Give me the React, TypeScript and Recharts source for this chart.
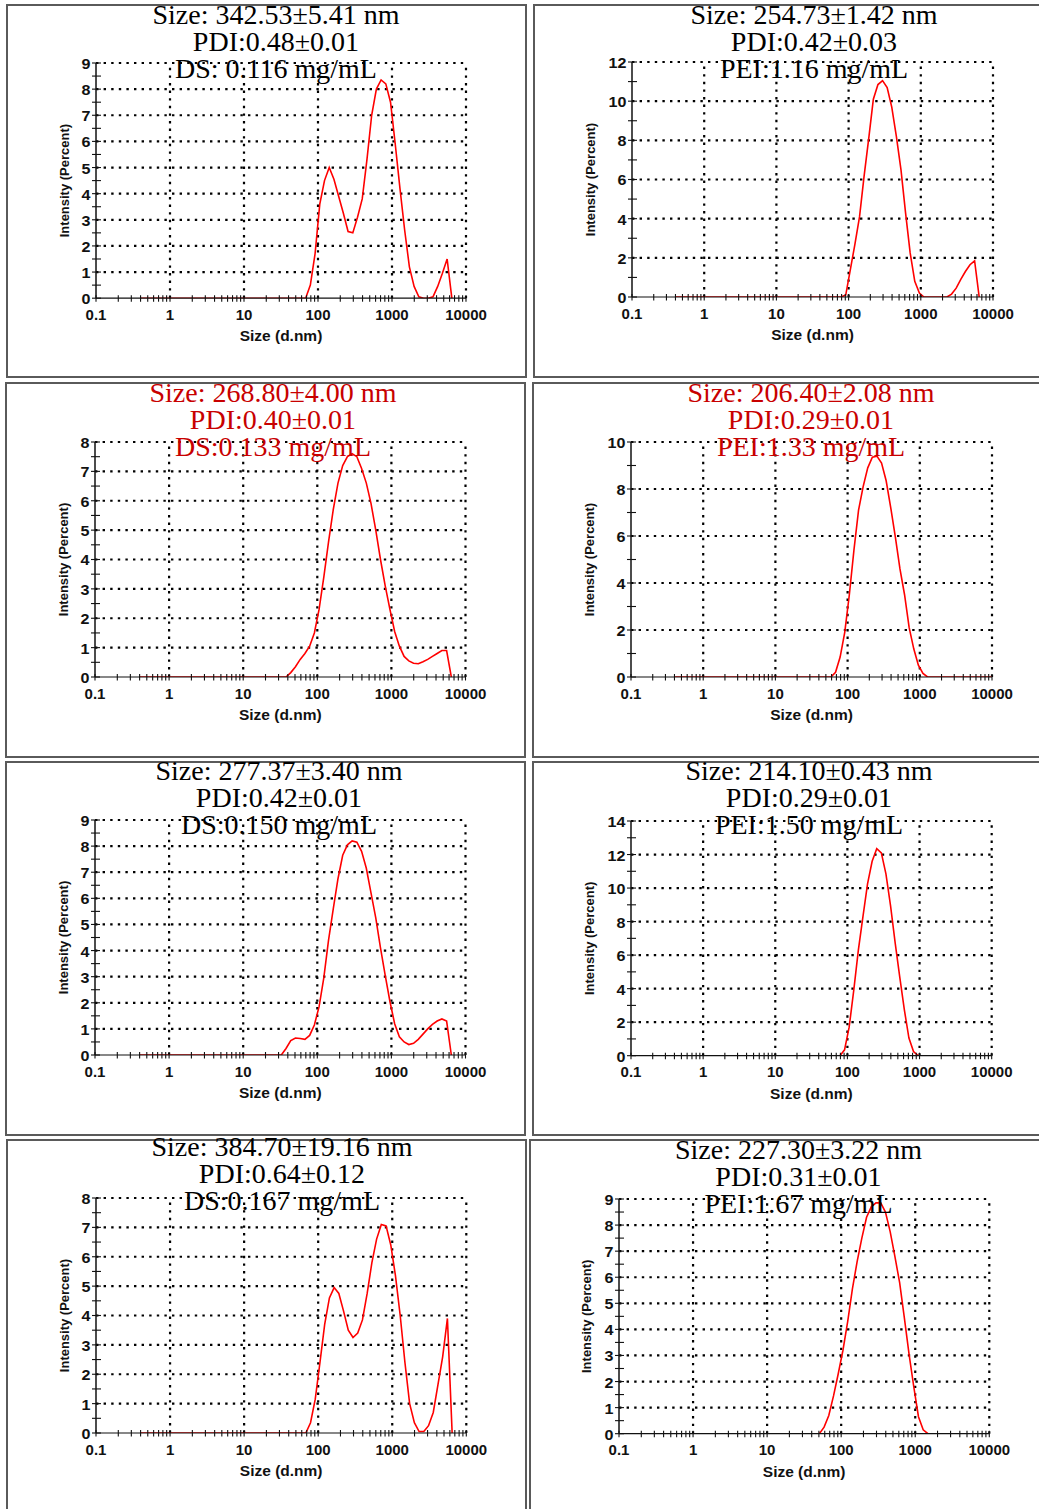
import React from 'react'
import { LineChart, Line, XAxis, YAxis, ReferenceLine } from 'recharts'

// Zetasizer size classes (d.nm), shared by every measurement
const SIZE_BINS = [
  0.4, 0.4632, 0.5365, 0.6213, 0.7195, 0.8332, 0.9649, 1.117, 1.294, 1.499,
  1.736, 2.01, 2.328, 2.696, 3.122, 3.615, 4.187, 4.849, 5.615, 6.503,
  7.531, 8.721, 10.1, 11.7, 13.54, 15.69, 18.17, 21.04, 24.36, 28.21,
  32.67, 37.84, 43.82, 50.75, 58.77, 68.06, 78.82, 91.28, 105.7, 122.4,
  141.8, 164.2, 190.1, 220.2, 255, 295.3, 342, 396.1, 458.7, 531.2,
  615.1, 712.4, 825, 955.4, 1106, 1281, 1484, 1718, 1990, 2305,
  2669, 3091, 3580, 4145, 4801, 5560, 6439, 7456, 8635, 10000,
]

const X_MAJOR = [0.1, 1, 10, 100, 1000, 10000]
const X_MINOR = [
  0.2, 0.3, 0.4, 0.5, 0.6, 0.7, 0.8, 0.9,
  2, 3, 4, 5, 6, 7, 8, 9,
  20, 30, 40, 50, 60, 70, 80, 90,
  200, 300, 400, 500, 600, 700, 800, 900,
  2000, 3000, 4000, 5000, 6000, 7000, 8000, 9000,
]

const Y_TICKS_8 = [0, 1, 2, 3, 4, 5, 6, 7, 8]
const Y_TICKS_9 = [0, 1, 2, 3, 4, 5, 6, 7, 8, 9]
const Y_TICKS_10 = [0, 2, 4, 6, 8, 10]
const Y_TICKS_12 = [0, 2, 4, 6, 8, 10, 12]
const Y_TICKS_14 = [0, 2, 4, 6, 8, 10, 12, 14]

// intensity (%) per size class
const ds116 = [
  0, 0, 0, 0, 0, 0, 0, 0, 0, 0,
  0, 0, 0, 0, 0, 0, 0, 0, 0, 0,
  0, 0, 0, 0, 0, 0, 0, 0, 0, 0,
  0, 0, 0, 0, 0, 0, 0.5, 1.7, 3.6, 4.5,
  5.0, 4.55, 3.9, 3.25, 2.55, 2.5, 3.1, 3.8, 5.3, 7.0,
  8.0, 8.35, 8.2, 7.5, 5.9, 4.2, 2.6, 1.2, 0.45, 0.05,
  0, 0, 0.05, 0.45, 0.95, 1.5, 0,
]
const pei116 = [
  0, 0, 0, 0, 0, 0, 0, 0, 0, 0,
  0, 0, 0, 0, 0, 0, 0, 0, 0, 0,
  0, 0, 0, 0, 0, 0, 0, 0, 0, 0,
  0, 0, 0, 0, 0, 0, 0, 0.1, 1.4, 2.7,
  4.1, 6.2, 8.1, 10.1, 10.85, 11.05, 10.7, 9.7, 8.2, 6.5,
  4.3, 2.25, 0.8, 0.2, 0, 0, 0, 0, 0, 0,
  0.15, 0.45, 0.9, 1.3, 1.65, 1.85, 0,
]
const ds133 = [
  0, 0, 0, 0, 0, 0, 0, 0, 0, 0,
  0, 0, 0, 0, 0, 0, 0, 0, 0, 0,
  0, 0, 0, 0, 0, 0, 0, 0, 0, 0,
  0, 0, 0.15, 0.35, 0.6, 0.8, 1.05, 1.5, 2.3, 3.4,
  4.6, 5.7, 6.6, 7.2, 7.5, 7.6, 7.5, 7.1, 6.6, 5.9,
  5.0, 4.0, 3.1, 2.3, 1.55, 1.05, 0.7, 0.55, 0.47, 0.45,
  0.52, 0.6, 0.7, 0.8, 0.9, 0.9, 0,
]
const pei133 = [
  0, 0, 0, 0, 0, 0, 0, 0, 0, 0,
  0, 0, 0, 0, 0, 0, 0, 0, 0, 0,
  0, 0, 0, 0, 0, 0, 0, 0, 0, 0,
  0, 0, 0, 0, 0, 0.2, 0.85, 1.9, 3.5, 5.4,
  7.1, 8.1, 8.9, 9.35, 9.4, 9.1, 8.35, 7.2, 5.95, 4.6,
  3.5, 2.1, 1.2, 0.5, 0.15, 0, 0, 0, 0, 0,
  0, 0, 0, 0, 0, 0, 0, 0, 0, 0,
]
const ds150 = [
  0, 0, 0, 0, 0, 0, 0, 0, 0, 0,
  0, 0, 0, 0, 0, 0, 0, 0, 0, 0,
  0, 0, 0, 0, 0, 0, 0, 0, 0, 0,
  0, 0.25, 0.55, 0.65, 0.63, 0.6, 0.75, 1.15, 1.85, 2.95,
  4.4, 5.6, 6.75, 7.65, 8.05, 8.2, 8.15, 7.8, 7.15, 6.2,
  5.25, 4.1, 3.05, 2.05, 1.2, 0.7, 0.5, 0.4, 0.45, 0.6,
  0.8, 1.0, 1.17, 1.3, 1.38, 1.3, 0,
]
const pei150 = [
  0, 0, 0, 0, 0, 0, 0, 0, 0, 0,
  0, 0, 0, 0, 0, 0, 0, 0, 0, 0,
  0, 0, 0, 0, 0, 0, 0, 0, 0, 0,
  0, 0, 0, 0, 0, 0, 0, 0.35, 1.7, 3.9,
  6.3, 8.3, 10.25, 11.6, 12.35, 12.1, 10.85, 8.95, 6.75, 4.7,
  2.75, 1.05, 0.25, 0, 0, 0, 0, 0, 0, 0,
  0, 0, 0, 0, 0, 0, 0, 0, 0, 0,
]
const ds167 = [
  0, 0, 0, 0, 0, 0, 0, 0, 0, 0,
  0, 0, 0, 0, 0, 0, 0, 0, 0, 0,
  0, 0, 0, 0, 0, 0, 0, 0, 0, 0,
  0, 0, 0, 0, 0, 0, 0.35, 1.15, 2.4, 3.7,
  4.6, 4.95, 4.75, 4.15, 3.5, 3.25, 3.4, 3.85, 4.75, 5.8,
  6.6, 7.1, 7.05, 6.4, 5.35, 4.0, 2.4, 1.0, 0.35, 0.05,
  0.05, 0.25, 0.7, 1.65, 2.6, 3.9, 0,
]
const pei167 = [
  0, 0, 0, 0, 0, 0, 0, 0, 0, 0,
  0, 0, 0, 0, 0, 0, 0, 0, 0, 0,
  0, 0, 0, 0, 0, 0, 0, 0, 0, 0,
  0, 0, 0, 0, 0.25, 0.7, 1.45, 2.3, 3.2, 4.3,
  5.55, 6.6, 7.5, 8.3, 8.7, 8.85, 8.85, 8.5, 7.75, 6.8,
  5.8, 4.45, 3.05, 1.8, 0.65, 0.15, 0, 0, 0, 0,
  0, 0, 0, 0, 0, 0, 0, 0, 0, 0,
]

const sizeLabels = [
  'Size: 342.53±5.41 nm', 'Size: 254.73±1.42 nm',
  'Size: 268.80±4.00 nm', 'Size: 206.40±2.08 nm',
  'Size: 277.37±3.40 nm', 'Size: 214.10±0.43 nm',
  'Size: 384.70±19.16 nm', 'Size: 227.30±3.22 nm',
]
const pdiLabels = [
  'PDI:0.48±0.01', 'PDI:0.42±0.03',
  'PDI:0.40±0.01', 'PDI:0.29±0.01',
  'PDI:0.42±0.01', 'PDI:0.29±0.01',
  'PDI:0.64±0.12', 'PDI:0.31±0.01',
]
const concLabels = [
  'DS: 0.116 mg/mL', 'PEI:1.16 mg/mL',
  'DS:0.133 mg/mL', 'PEI:1.33 mg/mL',
  'DS:0.150 mg/mL', 'PEI:1.50 mg/mL',
  'DS:0.167 mg/mL', 'PEI:1.67 mg/mL',
]

const SANS = "'Liberation Sans', Arial, sans-serif"
const SERIF = "'Liberation Serif', 'Times New Roman', serif"
const INK = '#111'

type Box = { x: number, y: number, w: number, h: number }
type PanelCfg = {
  box: Box
  plot: Box
  yTicks: number[]
  values: number[]
  titleX: number
  titleY: number
  labelGap: number
  color: string
}

const panels: PanelCfg[] = [
  { box: { x: 6, y: 4, w: 521, h: 374 }, plot: { x: 96, y: 62.5, w: 370, h: 235.2 }, yTicks: Y_TICKS_9, values: ds116, titleX: 276, titleY: 24, labelGap: 32, color: '#000' },
  { box: { x: 533, y: 4, w: 520, h: 374 }, plot: { x: 632, y: 62.3, w: 361, h: 235 }, yTicks: Y_TICKS_12, values: pei116, titleX: 814, titleY: 24, labelGap: 42, color: '#000' },
  { box: { x: 5, y: 382, w: 521, h: 376 }, plot: { x: 95, y: 441.7, w: 370.5, h: 235 }, yTicks: Y_TICKS_8, values: ds133, titleX: 273, titleY: 402.3, labelGap: 32, color: '#c80000' },
  { box: { x: 532, y: 382, w: 520, h: 376 }, plot: { x: 631, y: 441.7, w: 361, h: 235 }, yTicks: Y_TICKS_10, values: pei133, titleX: 811, titleY: 402.7, labelGap: 42, color: '#c80000' },
  { box: { x: 5, y: 761, w: 521, h: 375 }, plot: { x: 95, y: 820, w: 370.5, h: 235 }, yTicks: Y_TICKS_9, values: ds150, titleX: 279, titleY: 780, labelGap: 32, color: '#000' },
  { box: { x: 532, y: 761, w: 520, h: 375 }, plot: { x: 631, y: 821, w: 360.7, h: 234.7 }, yTicks: Y_TICKS_14, values: pei150, titleX: 809, titleY: 780, labelGap: 42, color: '#000' },
  { box: { x: 6, y: 1139, w: 521, h: 380 }, plot: { x: 95.7, y: 1198.3, w: 370.3, h: 235 }, yTicks: Y_TICKS_8, values: ds167, titleX: 282, titleY: 1156, labelGap: 32, color: '#000' },
  { box: { x: 529, y: 1139, w: 520, h: 380 }, plot: { x: 619, y: 1199.3, w: 370.3, h: 234.7 }, yTicks: Y_TICKS_9, values: pei167, titleX: 798.5, titleY: 1159.3, labelGap: 33, color: '#000' },
]

function SizeTick(props: any) {
  const { x, y, payload } = props
  const major = X_MAJOR.includes(payload.value)
  return (
    <g>
      <line x1={x} x2={x} y1={y - 3} y2={y + 3.5} stroke={INK} strokeWidth={1.1} />
      {major && (
        <text x={x} y={y + 21.6} textAnchor="middle" fontFamily={SANS} fontWeight="bold" fontSize={15} fill={INK}>
          {String(payload.value)}
        </text>
      )}
    </g>
  )
}

function PctTick(props: any) {
  const { x, y, payload, majors } = props
  const major = majors.includes(payload.value)
  const tx = x - 5.5
  return (
    <g>
      <line x1={x - 4} x2={x + 5} y1={y} y2={y} stroke={INK} strokeWidth={1.1} />
      {major && (
        <text x={tx} y={y + 6} textAnchor="end" fontFamily={SANS} fontWeight="bold" fontSize={14} fill={INK}
          transform={`translate(${tx} 0) scale(1.15 1) translate(${-tx} 0)`}>
          {payload.value}
        </text>
      )}
    </g>
  )
}

function DlsPanel({ p, idx }: { p: PanelCfg, idx: number }) {
  const yAxisW = p.labelGap * 2
  const chartW = 20 + yAxisW + p.plot.w + 30
  const chartH = 10 + p.plot.h + 60
  const data = p.values.map((v, i) => ({ size: SIZE_BINS[i], pct: v }))
  const yMax = p.yTicks[p.yTicks.length - 1]
  const yMinor = p.yTicks.slice(1).map((v, i) => (v + p.yTicks[i]) / 2)
  const titles = [sizeLabels[idx], pdiLabels[idx], concLabels[idx]]

  return (
    <>
      <div style={{
        position: 'absolute', left: p.box.x, top: p.box.y, width: p.box.w, height: p.box.h,
        border: '2px solid #5a5a5a', boxSizing: 'border-box',
      }} />
      <div style={{ position: 'absolute', left: p.plot.x - 20 - yAxisW, top: p.plot.y - 10 }}>
        <LineChart width={chartW} height={chartH} data={data} margin={{ top: 10, right: 30, left: 20, bottom: 0 }}>
          <XAxis
            type="number" dataKey="size" scale="log" domain={[0.1, 10000]} allowDataOverflow
            ticks={[...X_MAJOR, ...X_MINOR]} interval={0} height={60}
            tickSize={0} tickMargin={0} tickLine={false} tick={(t: any) => <SizeTick {...t} />}
            axisLine={{ stroke: INK, strokeWidth: 1.2 }}
            label={{ value: 'Size (d.nm)', position: 'insideBottom', offset: 17, fontFamily: SANS, fontWeight: 'bold', fontSize: 15.5, fill: INK }}
          />
          <YAxis
            type="number" domain={[0, yMax]} allowDataOverflow
            ticks={[...p.yTicks, ...yMinor]} interval={0} width={yAxisW}
            tickSize={0} tickMargin={0} tickLine={false} tick={(t: any) => <PctTick {...t} majors={p.yTicks} />}
            axisLine={{ stroke: INK, strokeWidth: 1.5 }}
            label={{ value: 'Intensity (Percent)', angle: -90, position: 'center', fontFamily: SANS, fontWeight: 'bold', fontSize: 13, fill: INK }}
          />
          {p.yTicks.slice(1).map(v => (
            <ReferenceLine key={'h' + v} y={v} stroke="#000" strokeWidth={2.2} strokeDasharray="2.4 5.2" />
          ))}
          {X_MAJOR.slice(1).map(v => (
            <ReferenceLine key={'v' + v} x={v} stroke="#000" strokeWidth={2.2} strokeDasharray="2.4 5.2" />
          ))}
          <Line type="linear" dataKey="pct" stroke="#ff0000" strokeWidth={1.6} dot={false} isAnimationActive={false} />
        </LineChart>
      </div>
      {titles.map((t, i) => (
        <div key={i} style={{
          position: 'absolute', left: p.titleX - 200, width: 400, top: p.titleY + i * 27 - 22.5,
          textAlign: 'center', fontFamily: SERIF, fontSize: 28, lineHeight: '26px',
          color: p.color, whiteSpace: 'nowrap',
        }}>{t}</div>
      ))}
    </>
  )
}

export default function App() {
  return (
    <div style={{ position: 'absolute', left: 0, top: 0, width: 1039, height: 1509, overflow: 'hidden', background: '#fff' }}>
      {panels.map((p, i) => <DlsPanel key={i} p={p} idx={i} />)}
    </div>
  )
}
